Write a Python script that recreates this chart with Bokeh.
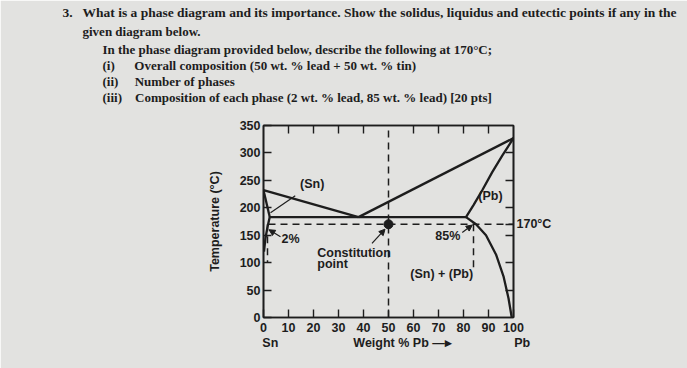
from bokeh.plotting import figure
from bokeh.models import Range1d, LinearAxis, FixedTicker, Label, Arrow, NormalHead, Title
from bokeh.embed import file_html
from bokeh.resources import INLINE

BG = "#e2e2e0"
INK = "#1d1d1d"
SERIF = "Liberation Serif"
SANS = "Liberation Sans"
EM = "\u2003"
EN = "\u2002"

# ---------------- question text ----------------
q_line1 = "3." + EN + " What is a phase diagram and its importance. Show the solidus, liquidus and eutectic points if any in the"
q_line2 = "given diagram below."
q_line3 = "In the phase diagram provided below, describe the following at 170\u00b0C;"
q_items = ["(i)" + EM + EN, "(ii)" + EM + " ", "(iii)" + EM]
q_item_texts = ["Overall composition (50 wt. % lead + 50 wt. % tin)",
                "Number of phases",
                "Composition of each phase (2 wt. % lead, 85 wt. % lead) [20 pts]"]

# ---------------- phase diagram data (wt.% Pb, temperature C) ----------------
liq_left_x = [0, 38]
liq_left_t = [232, 183]
liq_right_x = [38, 100]
liq_right_t = [183, 327]
sol_pb_x = [100, 95.5, 91.5, 87.5, 84, 81]
sol_pb_t = [327, 295, 265, 232, 205, 183]
solvus_pb_x = [81, 85, 89, 93, 96, 98, 99.3]
solvus_pb_t = [183, 170, 150, 115, 75, 35, 0]
eutectic_x = [2.5, 81]
eutectic_t = [183, 183]
sol_sn_x = [0, 2.5]
sol_sn_t = [232, 183]
solvus_sn_x = [2.5, 1.6, 0.8, 0.2]
solvus_sn_t = [183, 165, 145, 120]

iso_x = [2, 100]
iso_t = [170, 170]
comp_x = [50, 50]
comp_t = [0, 350]
pb_tie_x = [84, 84]
pb_tie_t = [170, 90]
sn_tie_x = [1.6, 1.6]
sn_tie_t = [170, 100]
point_x = [50]
point_t = [170]

y_ticks = [0, 50, 100, 150, 200, 250, 300, 350]
x_ticks = [0, 10, 20, 30, 40, 50, 60, 70, 80, 90, 100]
top_ticks = [10, 20, 30, 40, 60, 70, 80, 90]
right_ticks = [50, 100, 150, 170, 200, 250, 300]
right_label = {170: "170\u00b0C"}

x_axis_text = (EM + "\u2005" + "Sn" + EM * 6 + "Weight % Pb \u2014\u25b8" + EM * 5 + "Pb")

W, H = 687, 368
FRAME_LEFT, FRAME_W, FRAME_TOP, FRAME_H = 263, 250, 125, 192
p = figure(width=W, height=H, x_range=Range1d(0, 100), y_range=Range1d(0, 350),
           output_backend="svg", toolbar_location=None,
           min_border_left=FRAME_LEFT, min_border_right=W - FRAME_LEFT - FRAME_W,
           min_border_top=FRAME_TOP, min_border_bottom=H - FRAME_TOP - FRAME_H,
           x_axis_location=None, y_axis_location=None)
p.grid.visible = False
p.background_fill_color = BG
p.border_fill_color = BG
p.outline_line_color = INK
p.outline_line_width = 1.6

def style_axis(ax, ticks, labels=True):
    ax.ticker = FixedTicker(ticks=ticks)
    ax.axis_line_color = INK
    ax.axis_line_width = 1.6
    ax.major_tick_line_color = INK
    ax.major_tick_line_width = 1.4
    ax.major_tick_in = 8
    ax.major_tick_out = 0
    ax.minor_tick_line_color = None
    ax.major_label_text_font = SANS
    ax.major_label_text_font_size = "12.5px"
    ax.major_label_text_font_style = "bold"
    ax.major_label_text_color = INK
    ax.major_label_standoff = 3
    if not labels:
        ax.major_label_overrides = {float(t): "" for t in ticks}
        ax.major_label_standoff = 0

left = LinearAxis()
style_axis(left, y_ticks)
left.axis_label = "Temperature (\u00b0C)"
left.axis_label_text_font = SANS
left.axis_label_text_font_size = "12.5px"
left.axis_label_text_font_style = "bold"
left.axis_label_text_color = INK
left.axis_label_standoff = 15
p.add_layout(left, "left")

bottom = LinearAxis()
style_axis(bottom, x_ticks)
bottom.major_label_standoff = 5
bottom.axis_label = x_axis_text
bottom.axis_label_text_font = SANS
bottom.axis_label_text_font_size = "12.5px"
bottom.axis_label_text_font_style = "bold"
bottom.axis_label_text_color = INK
bottom.axis_label_standoff = 1
p.add_layout(bottom, "below")

top = LinearAxis()
style_axis(top, top_ticks, labels=False)
p.add_layout(top, "above")

right = LinearAxis()
style_axis(right, right_ticks)
right.major_label_overrides = {float(t): right_label.get(t, "") for t in right_ticks}
right.major_label_standoff = 3
p.add_layout(right, "right")

# question text as titles (added nearest-to-plot first; later ones stack above)
def qtitle(text, x, size="13px", standoff=0.0, line_height=1.0):
    p.add_layout(Title(text=text, align="left", offset=x - FRAME_LEFT, standoff=standoff,
                       text_font=SERIF, text_font_size=size, text_font_style="bold",
                       text_color=INK, text_line_height=line_height), "above")

qtitle(EM, 102, standoff=3.2)  # blank spacer row between the question and the chart
block = "\n".join([q_line3] + [a + b for a, b in zip(q_items, q_item_texts)])
qtitle(block, 102, standoff=0.8, line_height=1.07)
qtitle(q_line2, 82, standoff=2)
qtitle(q_line1, 62, size="13.5px", standoff=2)

# dashed guide lines
for xs, ts in [(iso_x, iso_t), (comp_x, comp_t), (pb_tie_x, pb_tie_t), (sn_tie_x, sn_tie_t)]:
    p.line(xs, ts, line_color=INK, line_width=1.5, line_dash="7 5")

# phase boundaries
for xs, ts in [(liq_left_x, liq_left_t), (liq_right_x, liq_right_t), (sol_pb_x, sol_pb_t),
               (solvus_pb_x, solvus_pb_t), (eutectic_x, eutectic_t), (sol_sn_x, sol_sn_t),
               (solvus_sn_x, solvus_sn_t)]:
    p.line(xs, ts, line_color=INK, line_width=2.3, line_join="round")

p.scatter(point_x, point_t, size=9, color=INK)

def lab(x, y, s, align="center", size="12.5px"):
    p.add_layout(Label(x=x, y=y, text=s, text_font=SANS, text_font_size=size,
                       text_font_style="bold", text_color=INK, text_align=align,
                       text_baseline="middle"))

lab(19.5, 244, "(Sn)")
lab(90.8, 222, "(Pb)")
lab(10.8, 144, "2%")
lab(73.7, 149, "85%")
lab(21.5, 118, "Constitution", "left")
lab(21.5, 97, "point", "left")
lab(71.3, 80, "(Sn) + (Pb)")

# leader line (no head) and arrows
p.line([12.7, 2.8], [222, 191], line_color=INK, line_width=1.2)
for xs, ys, xe, ye in [(6.8, 147, 2.2, 160), (79.5, 155, 83.5, 168.5), (43.4, 135, 48.6, 161)]:
    p.add_layout(Arrow(end=NormalHead(size=6, fill_color=INK, line_color=INK),
                       x_start=xs, y_start=ys, x_end=xe, y_end=ye,
                       line_color=INK, line_width=1.2))

open("out.html", "w").write(file_html(p, INLINE))
